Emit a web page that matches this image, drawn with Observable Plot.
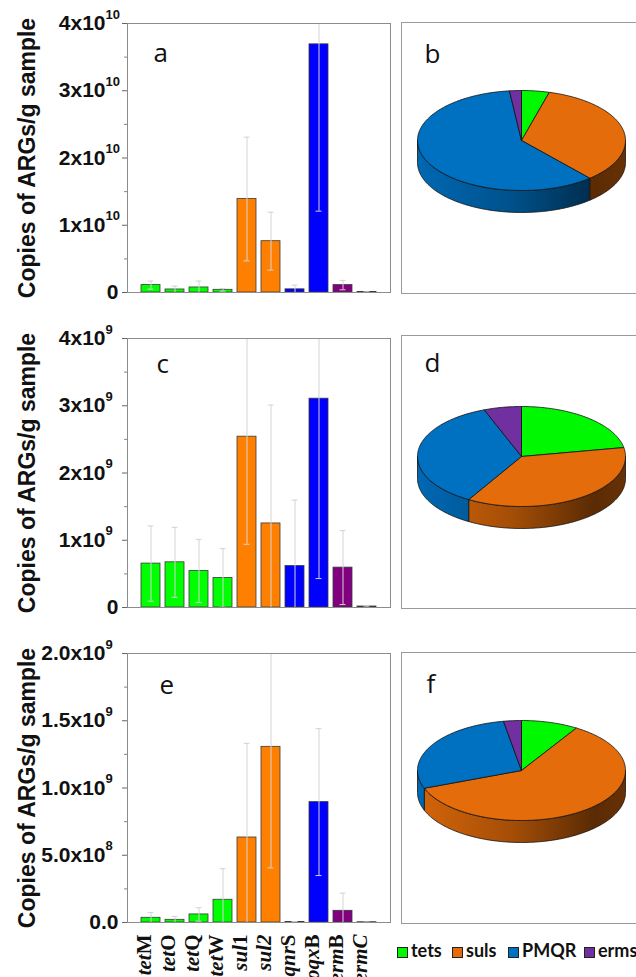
<!DOCTYPE html>
<html><head><meta charset="utf-8">
<script src="https://cdn.jsdelivr.net/npm/d3@7"></script>
<script src="https://cdn.jsdelivr.net/npm/@observablehq/plot@0.6"></script>
<style>
html,body{margin:0;padding:0;background:#fff;}
#fig{position:relative;width:636px;height:977px;overflow:hidden;background:#fff;}
.cell{position:absolute;}
.cell svg{max-width:none !important;display:block;}
#legend{position:absolute;left:0;top:0;width:636px;height:977px;pointer-events:none;}
.lg-item{position:absolute;top:941px;font-family:Lato,sans-serif;font-weight:bold;font-size:18px;line-height:18px;color:#111;white-space:nowrap;}
.lg-sw{display:inline-block;width:9px;height:9px;border:1.2px solid #222;margin-right:3px;vertical-align:-1px;}
</style>
</head><body>
<div id="fig"><div id="legend"></div></div>
<script>
// ---------- data ----------
const genes      = ["tetM","tetO","tetQ","tetW","sul1","sul2","qnrS","oqxB","ermB","ermC"];
const geneItalic = ["tet","tet","tet","tet","sul","sul2","qnr","oqx","erm","ermC"];
const geneRoman  = ["M","O","Q","W","1","","S","B","B",""];
const geneGroup  = ["tets","tets","tets","tets","suls","suls","PMQR","PMQR","erms","erms"];
const groupNames = ["tets","suls","PMQR","erms"];

// panel a
const meanA = [1.1e9, 0.45e9, 0.75e9, 0.4e9, 1.39e10, 0.763e10, 0.47e9, 3.69e10, 1.1e9, 0.06e9];
const sdA   = [0.6e9, 0.5e9, 0.95e9, 0.2e9, 0.92e10, 0.43e10, 0.62e9, 2.48e10, 0.7e9, 0.03e9];
const ticksA = [0, 1e10, 2e10, 3e10, 4e10];
const minorA = [0.5e10, 1.5e10, 2.5e10, 3.5e10];
const tickBaseA = ["0","1x10","2x10","3x10","4x10"];
const tickExpA  = ["","10","10","10","10"];

// panel c
const meanC = [0.653e9, 0.672e9, 0.543e9, 0.44e9, 2.54e9, 1.25e9, 0.617e9, 3.105e9, 0.593e9, 0.015e9];
const sdC   = [0.56e9, 0.52e9, 0.47e9, 0.435e9, 1.6e9, 1.76e9, 0.98e9, 2.675e9, 0.55e9, 0.01e9];
const ticksC = [0, 1e9, 2e9, 3e9, 4e9];
const minorC = [0.5e9, 1.5e9, 2.5e9, 3.5e9];
const tickBaseC = ["0","1x10","2x10","3x10","4x10"];
const tickExpC  = ["","9","9","9","9"];

// panel e
const meanE = [0.035e9, 0.02e9, 0.06e9, 0.169e9, 0.632e9, 1.306e9, 0.004e9, 0.895e9, 0.087e9, 0.002e9];
const sdE   = [0.039e9, 0.025e9, 0.05e9, 0.231e9, 0.70e9, 0.9e9, 0.002e9, 0.546e9, 0.131e9, 0.001e9];
const ticksE = [0, 0.5e9, 1.0e9, 1.5e9, 2.0e9];
const minorE = [0.25e9, 0.75e9, 1.25e9, 1.75e9];
const tickBaseE = ["0.0","5.0x10","1.0x10","1.5x10","2.0x10"];
const tickExpE  = ["","8","9","9","9"];

const yTitle = "Copies of ARGs/g sample";
const legendLabels = ["tets","suls","PMQR","erms"];

// ---------- styles ----------
const barColors = {tets:"#00ff00", suls:"#ff8000", PMQR:"#0000ff", erms:"#800080"};
const pieColors = {tets:"#00f800", suls:"#e46c0a", PMQR:"#0070c0", erms:"#7030a0"};
const SANS = "Liberation Sans, Arial, sans-serif";

const fig = document.getElementById("fig");
function place(node, left, top, width) {
  const div = document.createElement("div");
  div.className = "cell";
  div.style.left = left + "px"; div.style.top = top + "px"; div.style.width = width + "px";
  div.appendChild(node); fig.appendChild(div);
}

function barPanel(o) {
  const rows = genes.map((g, i) => ({
    gene: g, group: geneGroup[i], v: o.means[i],
    lo: Math.max(0, o.means[i] - o.sds[i]), hi: Math.min(o.ymax, o.means[i] + o.sds[i]),
    hiClip: o.means[i] + o.sds[i] > o.ymax, loClip: o.means[i] - o.sds[i] < 0
  }));
  const tr = o.ticks.map((t, i) => ({t, base: o.tickBase[i], exp: o.tickExp[i]}));
  const marks = [
    Plot.axisY({ticks: o.ticks, tickSize: 5, tickFormat: () => "", stroke: "#666"}),
    Plot.axisY({ticks: o.minor, tickSize: 3, tickFormat: () => "", stroke: "#888"}),
    Plot.barY(rows, {x: "gene", y: "v", fill: d => barColors[d.group], stroke: "#3a3a3a", strokeWidth: 0.8}),
    Plot.ruleX(rows, {x: "gene", y1: "lo", y2: "hi", stroke: "#d4d4d4", strokeWidth: 1}),
    Plot.tickY(rows.filter(d => !d.hiClip), {x: "gene", y: "hi", stroke: "#d4d4d4", insetLeft: 6.5, insetRight: 6.5}),
    Plot.tickY(rows.filter(d => !d.loClip && d.lo > 0), {x: "gene", y: "lo", stroke: "#d4d4d4", insetLeft: 6.5, insetRight: 6.5}),
    Plot.frame({stroke: "#8c8c8c"}),
    Plot.text(tr.filter(d => !d.exp), {y: "t", text: "base", frameAnchor: "left", dx: -9, textAnchor: "end", fontSize: 21, fontWeight: "bold", fontFamily: SANS, fill: "#111"}),
    Plot.text(tr.filter(d => d.exp), {y: "t", text: "base", frameAnchor: "left", dx: -22, textAnchor: "end", fontSize: 21, fontWeight: "bold", fontFamily: SANS, fill: "#111"}),
    Plot.text(tr.filter(d => d.exp), {y: "t", text: "exp", frameAnchor: "left", dx: -22, dy: -9, textAnchor: "start", fontSize: 13, fontWeight: "bold", fontFamily: SANS, fill: "#111"}),
    Plot.text([o.ymax / 2], {y: d => d, text: () => yTitle, frameAnchor: "left", dx: -100, rotate: -90, textAnchor: "middle", fontSize: 23, fontWeight: "bold", fontFamily: SANS, fill: "#111"}),
    Plot.text([o.letter], {text: d => d, frameAnchor: "top-left", dx: o.ldx, dy: o.ldy, lineAnchor: "bottom", textAnchor: "start", fontSize: 26, fontFamily: "Open Sans, sans-serif", fill: "#111"})
  ];
  if (o.showGenes) {
    marks.push(Plot.text(genes, {x: d => d, text: d => d, frameAnchor: "bottom", dy: 12, rotate: -90, textAnchor: "end", lineAnchor: "bottom", fontSize: 21, fontWeight: "bold", fontFamily: "Liberation Serif, Times New Roman, serif", fill: "#111"}));
  }
  const svg = Plot.plot({
    width: 395, height: o.height, marginLeft: 127, marginRight: 5, marginTop: o.marginTop, marginBottom: o.marginBottom,
    x: {type: "band", domain: genes, paddingInner: 0.21, paddingOuter: 0.58, axis: null},
    y: {domain: [0, o.ymax]},
    style: {fontFamily: SANS, background: "transparent", overflow: "visible"},
    marks
  });
  if (o.showGenes) {
    d3.select(svg).selectAll("text").each(function () {
      if (this.childElementCount > 0) return;
      const i = genes.indexOf(this.textContent.trim());
      if (i < 0) return;
      const t = d3.select(this); t.text("");
      t.append("tspan").attr("font-style", "italic").text(geneItalic[i]);
      if (geneRoman[i]) t.append("tspan").attr("font-style", "normal").text(geneRoman[i]);
    });
  }
  place(svg, 0, o.top, 395);
}

function piePanel(o) {
  const totals = groupNames.map(g => d3.sum(o.means.filter((_, i) => geneGroup[i] === g)));
  const total = d3.sum(totals);
  let acc = 0;
  const slices = groupNames.map((g, k) => {
    const a0 = acc / total * 2 * Math.PI; acc += totals[k];
    return {group: g, a0, a1: acc / total * 2 * Math.PI};
  });
  const depth = 0.44;
  const topPts = [], sidePts = [];
  const arc = (a0, a1, off, key, group, arr) => {
    const n = Math.max(2, Math.ceil(Math.abs(a1 - a0) / (2 * Math.PI) * 360));
    for (let j = 0; j <= n; j++) {
      const a = a0 + (a1 - a0) * j / n;
      arr.push({key, group, x: Math.sin(a), y: -Math.cos(a) + off});
    }
  };
  slices.forEach(s => {
    const key = s.group;
    topPts.push({key, group: s.group, x: 0, y: 0});
    arc(s.a0, s.a1, 0, key, s.group, topPts);
    topPts.push({key, group: s.group, x: 0, y: 0});
    const s0 = Math.max(s.a0, Math.PI / 2), s1 = Math.min(s.a1, 3 * Math.PI / 2);
    if (s1 > s0) {
      arc(s0, s1, 0, key, s.group, sidePts);
      arc(s1, s0, depth, key, s.group, sidePts);
      sidePts.push({key, group: s.group, x: Math.sin(s0), y: -Math.cos(s0)});
    }
  });
  const cx = 121, rx = 104, ry = 50;
  const gid = "grad-" + o.letter;
  const svg = Plot.plot({
    width: 262, height: o.height, marginLeft: 1, marginRight: 1, marginTop: o.marginTop, marginBottom: o.marginBottom,
    x: {domain: [-1, 1], range: [cx - rx, cx + rx], axis: null},
    y: {domain: [-1, 1], range: [o.cy - ry, o.cy + ry], axis: null},
    color: {type: "identity"},
    style: {background: "transparent", overflow: "visible"},
    marks: [
      Plot.frame({stroke: "#9a9a9a"}),
      Plot.line(sidePts, {x: "x", y: "y", z: "key", fill: d => `url(#${gid}-${d.group})`, stroke: "#111", strokeWidth: 0.8}),
      Plot.line(topPts, {x: "x", y: "y", z: "key", fill: d => pieColors[d.group], stroke: "#111", strokeWidth: 0.8}),
      Plot.text([o.letter], {text: d => d, frameAnchor: "top-left", dx: o.ldx, dy: o.ldy, lineAnchor: "bottom", textAnchor: "start", fontSize: 26, fontFamily: "Open Sans, sans-serif", fill: "#111"})
    ]
  });
  const defs = d3.select(svg).insert("defs", ":first-child");
  groupNames.forEach(g => {
    const c = d3.color(pieColors[g]);
    const lg = defs.append("linearGradient").attr("id", `${gid}-${g}`)
      .attr("gradientUnits", "userSpaceOnUse").attr("x1", cx - rx).attr("x2", cx + rx).attr("y1", 0).attr("y2", 0);
    [[0, 0.2], [0.45, 0.9], [0.85, 2.6], [1, 2.2]].forEach(([off, k]) =>
      lg.append("stop").attr("offset", off).attr("stop-color", c.darker(k).formatHex()));
  });
  place(svg, 400, o.top, 262);
}

barPanel({means: meanA, sds: sdA, ymax: 4e10, ticks: ticksA, minor: minorA, tickBase: tickBaseA, tickExp: tickExpA,
  letter: "a", ldx: 26, ldy: 38.5, top: 0, height: 300, marginTop: 23, marginBottom: 8});
barPanel({means: meanC, sds: sdC, ymax: 4e9, ticks: ticksC, minor: minorC, tickBase: tickBaseC, tickExp: tickExpC,
  letter: "c", ldx: 29, ldy: 34, top: 300, height: 315, marginTop: 38, marginBottom: 8});
barPanel({means: meanE, sds: sdE, ymax: 2e9, ticks: ticksE, minor: minorE, tickBase: tickBaseE, tickExp: tickExpE,
  letter: "e", ldx: 32, ldy: 40.5, top: 615, height: 362, marginTop: 38, marginBottom: 55, showGenes: true});

piePanel({means: meanA, letter: "b", ldx: 23, ldy: 40, top: 0, height: 300, marginTop: 22, marginBottom: 7, cy: 140});
piePanel({means: meanC, letter: "d", ldx: 23, ldy: 36.5, top: 300, height: 315, marginTop: 35, marginBottom: 7, cy: 156});
piePanel({means: meanE, letter: "f", ldx: 25, ldy: 40, top: 615, height: 315, marginTop: 37, marginBottom: 7, cy: 155});

// legend
const legendX = [397, 452, 508, 584];
const lg = document.getElementById("legend");
legendLabels.forEach((name, i) => {
  const it = document.createElement("div");
  it.className = "lg-item"; it.style.left = legendX[i] + "px";
  const sw = document.createElement("span"); sw.className = "lg-sw"; sw.style.background = pieColors[groupNames[i]];
  it.appendChild(sw); it.appendChild(document.createTextNode(name));
  lg.appendChild(it);
});
</script>
</body></html>
